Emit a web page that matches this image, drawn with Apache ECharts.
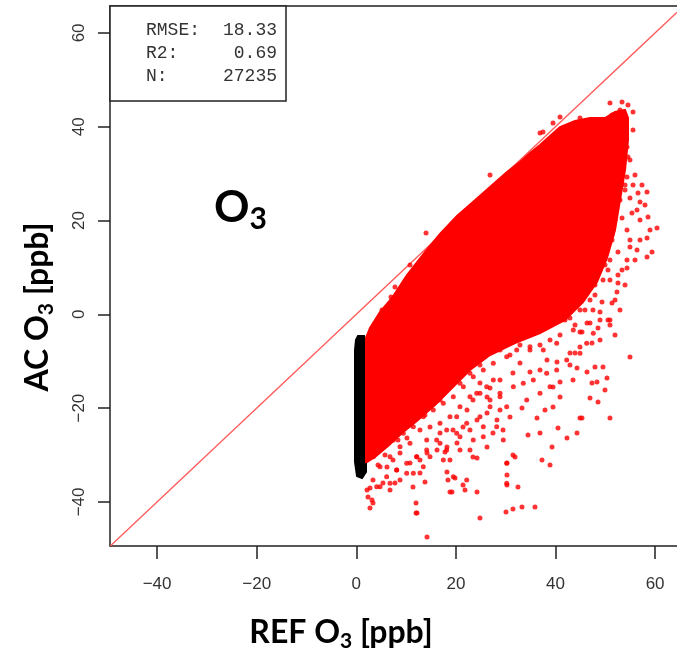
<!DOCTYPE html>
<html lang="en">
<head>
<meta charset="UTF-8">
<title>O3 scatter</title>
<script src="https://cdn.jsdelivr.net/npm/echarts@6/dist/echarts.min.js"></script>
<style>
  html, body { margin: 0; padding: 0; background: #fff; }
  #main { width: 677px; height: 652px; }
</style>
</head>
<body>
<div id="main"></div>
<script>
// axis ranges and ticks
var xRange = [-49.46, 64.4];
var yRange = [-49.4, 65.74];
var xTicks = [-40, -20, 0, 20, 40, 60];
var yTicks = [-40, -20, 0, 20, 40, 60];

var statLabels = ['RMSE:', 'R2:', 'N:'];
var statValues = ['18.33', '0.69', '27235'];

// 1:1 line
var refLine = [[-49.4, -49.4], [64.4, 64.4]];

// dense red core of the cloud (outline)
var redCore = [
  [1.95, -31.49], [1.95, -5.05], [2.75, -2.93], [4.76, 0.49], [7.17, 3.48],
  [10.18, 8.38], [13.79, 13.28], [16.81, 17.12], [20.22, 20.96], [23.43, 23.94],
  [26.85, 27.14], [30.26, 30.34], [32.87, 32.47], [34.88, 34.39], [36.89, 36.1],
  [38.9, 38.02], [40.91, 39.93], [43.92, 41.21], [46.93, 41.85], [49.94, 41.85],
  [51.95, 43.13], [53.96, 43.56], [54.56, 41.85],
  [54.56, 37.16], [53.96, 30.76], [52.95, 24.37], [51.95, 17.97], [50.34, 12.0],
  [48.33, 6.89], [45.52, 2.62], [41.91, -1.22], [36.89, -3.99], [31.87, -6.12],
  [26.85, -8.68], [22.83, -11.87], [19.22, -15.71], [15.8, -19.34], [12.39, -22.53],
  [9.18, -25.31], [6.37, -28.08], [3.75, -30.42], [2.15, -31.49]
];

// black strip near REF = 0
var blackCore = [
  [-0.06, -5.48], [0.34, -4.63], [1.55, -4.63], [1.95, -6.55], [1.95, -33.62],
  [1.14, -34.9], [0.14, -34.5], [-0.26, -31.5], [-0.26, -7.6]
];

// scattered points outside the core
var redDots = [
  [50.94, 45.05], [53.36, 45.26], [54.56, 44.62], [55.57, 43.13], [52.95, 43.56],
  [51.35, 42.49], [53.96, 41.0], [55.57, 39.29], [52.35, 40.78], [50.94, 39.93],
  [54.36, 35.67], [54.56, 33.54], [52.95, 34.39], [52.95, 31.4], [54.36, 29.27],
  [52.55, 27.14], [58.38, 26.07], [56.57, 25.86], [54.96, 24.8], [56.97, 23.94],
  [58.58, 20.74], [56.37, 22.24], [40.91, 42.07], [39.5, 40.78], [37.49, 38.87],
  [44.92, 41.85], [48.94, 41.0], [60.39, 18.4], [58.38, 16.27], [59.38, 13.28],
  [58.38, 12.22], [56.37, 13.71], [54.96, 14.35], [56.97, 20.11], [55.36, 21.6],
  [53.36, 20.53], [54.36, 17.97], [54.96, 15.84], [52.55, 13.28], [54.36, 11.58],
  [54.36, 9.87], [52.55, 8.38], [52.55, 6.67], [50.94, 7.31], [52.35, 4.75],
  [51.35, 2.41], [49.34, 2.62], [47.53, 0.92], [48.94, 0.49], [50.94, -1.22],
  [50.94, -2.29], [51.95, -4.41], [48.54, -2.93], [47.33, -6.12], [48.94, -5.48],
  [54.96, -9.1], [45.32, -3.77], [46.93, -1.86], [44.92, -6.97], [43.92, -8.25],
  [36.89, 38.65], [26.85, 29.7], [14.0, 17.33], [10.78, 10.51], [7.77, 5.82],
  [6.97, 3.69], [5.16, 0.92],
  [50.94, -22.11], [50.34, -13.58], [49.94, -16.14], [48.33, -14.43], [47.33, -14.65],
  [48.54, -18.7], [46.93, -17.84], [44.32, -25.31], [44.92, -22.11], [42.31, -26.37],
  [40.5, -24.24], [39.3, -28.29], [38.9, -32.13], [37.29, -31.06], [36.89, -25.31],
  [34.48, -25.73], [35.88, -41.08], [33.27, -41.08], [31.46, -41.51], [30.06, -42.15],
  [32.47, -36.82], [30.26, -36.4], [30.26, -34.26], [31.46, -30.0], [30.26, -31.7],
  [24.84, -43.43], [24.24, -37.88], [21.83, -37.46], [21.43, -36.4], [18.81, -37.88],
  [18.41, -35.33], [19.82, -34.9], [18.21, -33.62], [14.2, -47.48], [11.99, -42.37],
  [11.99, -40.23], [13.79, -35.75], [11.38, -36.82], [12.79, -33.84], [14.2, -29.57],
  [16.21, -28.93], [17.81, -29.36], [20.22, -27.44], [22.83, -28.93], [23.43, -30.42],
  [24.24, -30.64], [26.25, -28.29], [27.45, -25.31], [29.46, -24.67], [28.25, -22.53],
  [30.86, -21.9], [33.27, -19.98], [36.29, -22.11], [37.89, -20.4], [39.5, -19.76],
  [40.91, -17.63], [39.5, -15.5], [40.91, -14.43], [43.52, -14.0], [44.32, -11.45],
  [46.33, -12.3], [47.93, -11.23], [49.54, -11.23], [46.33, -1.86], [50.54, -1.22],
  [44.92, -3.77], [42.91, -8.25], [42.91, -10.81], [40.3, -10.17], [38.29, -9.74],
  [36.89, -11.87], [34.88, -12.3], [32.87, -10.38], [31.46, -12.51], [28.86, -14.0],
  [26.85, -15.71], [24.84, -14.65], [26.25, -17.63], [23.43, -18.27], [22.23, -20.4],
  [24.24, -22.53], [26.25, -21.04], [21.43, -24.03], [19.42, -24.67], [16.81, -25.31],
  [14.8, -24.03], [12.79, -24.67], [10.18, -26.37], [8.78, -29.57], [7.37, -31.06],
  [6.16, -32.56], [5.36, -35.97], [3.35, -35.33], [2.15, -37.46], [3.15, -39.59],
  [2.75, -41.3], [7.77, -35.97], [10.78, -31.7], [12.79, -31.06], [18.81, -31.06],
  [20.82, -28.93], [18.21, -28.29], [3.35, -40.23], [2.35, -38.95], [2.75, -37.03],
  [12.19, -42.37], [19.22, -37.88], [31.87, -30.42], [45.32, -22.11],
  [22.83, -9.74], [28.86, -7.6], [32.87, -6.55], [36.89, -6.55], [40.91, -4.41],
  [43.92, -2.29], [45.92, 0.92], [47.93, 4.11], [49.54, 7.31], [50.94, 11.58],
  [51.35, 15.84], [51.95, 20.11], [52.35, 24.37], [52.95, 28.63], [19.82, -14.0],
  [16.81, -18.27], [13.79, -21.47], [10.78, -23.6], [8.37, -26.8], [5.76, -30.0],
  [4.36, -32.13], [21.83, -11.87], [24.84, -10.81], [30.86, -8.68], [34.88, -7.61],
  [38.9, -5.48], [41.91, -1.22],
  [28.86, -4.05], [31.53, -4.78], [34.22, -3.35], [36.89, -2.64], [39.56, -1.22],
  [42.25, 0.21], [43.57, -3.35], [40.24, -6.18], [37.55, -7.61], [34.88, -6.91],
  [32.21, -7.61], [30.2, -9.04], [27.51, -10.45], [25.5, -11.88], [23.49, -13.3],
  [21.49, -15.44], [19.48, -17.57], [17.47, -18.97], [15.46, -20.4], [13.45, -21.83],
  [11.45, -23.96], [9.44, -25.37], [7.43, -26.8], [5.42, -28.23], [3.41, -30.36],
  [4.76, -32.49], [6.77, -30.36], [8.78, -28.23], [10.78, -27.5], [14.14, -26.8],
  [16.81, -23.24], [18.81, -21.83], [20.82, -19.7], [22.83, -17.57], [24.84, -16.84],
  [26.85, -18.27], [28.86, -16.84], [31.53, -15.44], [33.53, -14.71], [35.54, -14.01],
  [38.23, -12.58], [40.24, -11.88], [42.25, -9.74], [44.92, -8.31], [46.26, -6.18],
  [47.59, -4.05], [48.94, -1.22], [44.92, 0.92], [34.22, -18.27], [36.89, -16.84],
  [38.9, -15.44], [28.86, -20.4], [25.5, -23.96], [23.49, -26.8], [20.16, -25.37],
  [16.81, -27.5], [14.8, -30.36], [12.13, -30.36], [10.12, -33.9], [8.11, -33.2],
  [6.77, -36.03], [4.1, -36.76],
  [48.94, 13.71], [49.94, 10.51], [47.93, 6.25], [45.92, 4.11], [43.92, 1.98],
  [51.34, 16.91], [50.54, 9.44], [46.93, 3.05], [42.91, -0.79], [52.95, 24.37],
  [53.96, 27.57], [51.95, 23.3], [53.36, 32.9], [51.35, 31.83],
  [20.82, -14.71], [22.83, -12.58], [24.18, -16.84], [26.18, -15.44], [27.51, -14.01],
  [28.86, -17.57], [30.2, -19.7], [26.85, -19.7], [24.84, -21.83], [22.17, -23.24],
  [20.16, -21.83], [18.15, -24.67], [16.14, -26.8], [14.14, -28.93], [12.13, -30.36],
  [10.12, -31.77], [8.11, -33.2], [6.1, -34.62], [4.76, -36.76], [18.15, -28.93],
  [20.82, -26.1], [22.83, -24.67], [25.5, -26.1], [28.19, -23.96], [29.52, -26.8],
  [30.2, -31.77], [30.2, -36.03], [22.17, -35.33], [19.48, -34.62], [17.47, -31.06],
  [13.45, -32.49], [11.45, -33.9], [8.78, -35.33], [6.77, -37.46],
  [54.96, 32.9], [55.96, 29.7], [57.37, 27.57], [55.57, 27.57], [53.96, 26.5],
  [57.97, 23.3], [58.98, 17.97], [56.97, 15.84], [55.97, 11.58], [53.36, 9.45],
  [53.96, 6.25], [51.95, 3.05], [52.95, 0.92]
];

var chart = echarts.init(document.getElementById('main'));

function polygonSeries(points, color, z) {
  return {
    type: 'custom',
    coordinateSystem: 'cartesian2d',
    data: points,
    z: z,
    silent: true,
    renderItem: function (params, api) {
      if (params.dataIndex !== 0) return null;
      return {
        type: 'polygon',
        shape: { points: points.map(function (p) { return api.coord(p); }) },
        style: { fill: color, stroke: color, lineWidth: 2 }
      };
    }
  };
}

function minus(v) { return String(v).replace('-', '\u2212'); }

var tickLabel = { color: '#333', fontSize: 17, fontFamily: 'Liberation Sans, Arial, sans-serif' };
var titleFont = 'Lato, "Open Sans", sans-serif';
var frameLine = { color: '#222', width: 1.5 };

var option = {
  backgroundColor: '#fff',
  animation: false,
  grid: { left: 110, right: 0, top: 6, height: 540 },
  xAxis: [
    {
      type: 'value', min: xRange[0], max: xRange[1],
      axisLine: { show: true, onZero: false, lineStyle: frameLine },
      splitLine: { show: false },
      axisTick: { show: true, length: 13, customValues: xTicks, lineStyle: frameLine },
      axisLabel: Object.assign({ customValues: xTicks, margin: 30, formatter: minus }, tickLabel)
    },
    {
      // top edge of the plot frame
      type: 'value', position: 'top', min: xRange[0], max: xRange[1],
      axisLine: { show: true, onZero: false, lineStyle: frameLine },
      splitLine: { show: false }, axisTick: { show: false }, axisLabel: { show: false }
    }
  ],
  yAxis: {
    type: 'value', min: yRange[0], max: yRange[1],
    axisLine: { show: true, onZero: false, lineStyle: frameLine },
    splitLine: { show: false },
    axisTick: { show: true, length: 12, customValues: yTicks, lineStyle: frameLine },
    axisLabel: Object.assign({ customValues: yTicks, margin: 22, rotate: 90, formatter: minus }, tickLabel)
  },
  series: [
    {
      type: 'line', data: refLine, symbol: 'none', z: 1, silent: true,
      lineStyle: { color: '#ff5a5a', width: 1.3 }
    },
    polygonSeries(blackCore, '#000', 2),
    polygonSeries(redCore, '#ff0000', 3),
    {
      type: 'scatter', data: redDots, symbolSize: 5, z: 4, silent: true,
      itemStyle: { color: '#ff0000' }
    }
  ],
  graphic: [
    {
      type: 'rect', z: 100,
      shape: { x: 110, y: 6, width: 176, height: 95 },
      style: { fill: '#fff', stroke: '#222', lineWidth: 1.5 }
    }
  ].concat(statLabels.map(function (s, i) {
    return {
      type: 'text', z: 101, x: 146, y: 30 + i * 23,
      style: { text: s, fill: '#333', font: '18px "Liberation Mono", monospace', verticalAlign: 'middle' }
    };
  })).concat(statValues.map(function (s, i) {
    return {
      type: 'text', z: 101, x: 277, y: 30 + i * 23,
      style: { text: s, fill: '#333', font: '18px "Liberation Mono", monospace', align: 'right', verticalAlign: 'middle' }
    };
  })).concat([
    {
      type: 'text', z: 101, x: 214, y: 208,
      style: {
        text: '{a|O}{s|3}',
        align: 'left', verticalAlign: 'middle',
        rich: {
          a: { fontSize: 44, fontWeight: 'bold', fontFamily: titleFont, fill: '#000', lineHeight: 52, verticalAlign: 'middle' },
          s: { fontSize: 30, fontWeight: 'bold', fontFamily: titleFont, fill: '#000', lineHeight: 30, verticalAlign: 'bottom' }
        }
      }
    },
    {
      type: 'text', z: 101, x: 341, y: 633,
      style: {
        text: '{a|REF O}{s|3}{a| [ppb]}',
        align: 'center', verticalAlign: 'middle',
        rich: {
          a: { fontSize: 32, fontWeight: 'bold', fontFamily: titleFont, fill: '#000', lineHeight: 38, verticalAlign: 'middle' },
          s: { fontSize: 21, fontWeight: 'bold', fontFamily: titleFont, fill: '#000', lineHeight: 21, verticalAlign: 'bottom' }
        }
      }
    },
    {
      type: 'text', z: 101, x: 38, y: 307, rotation: Math.PI / 2,
      style: {
        text: '{a|AC O}{s|3}{a| [ppb]}',
        align: 'center', verticalAlign: 'middle',
        rich: {
          a: { fontSize: 32, fontWeight: 'bold', fontFamily: titleFont, fill: '#000', lineHeight: 38, verticalAlign: 'middle' },
          s: { fontSize: 21, fontWeight: 'bold', fontFamily: titleFont, fill: '#000', lineHeight: 21, verticalAlign: 'bottom' }
        }
      }
    }
  ])
};

chart.setOption(option);
</script>
</body>
</html>
